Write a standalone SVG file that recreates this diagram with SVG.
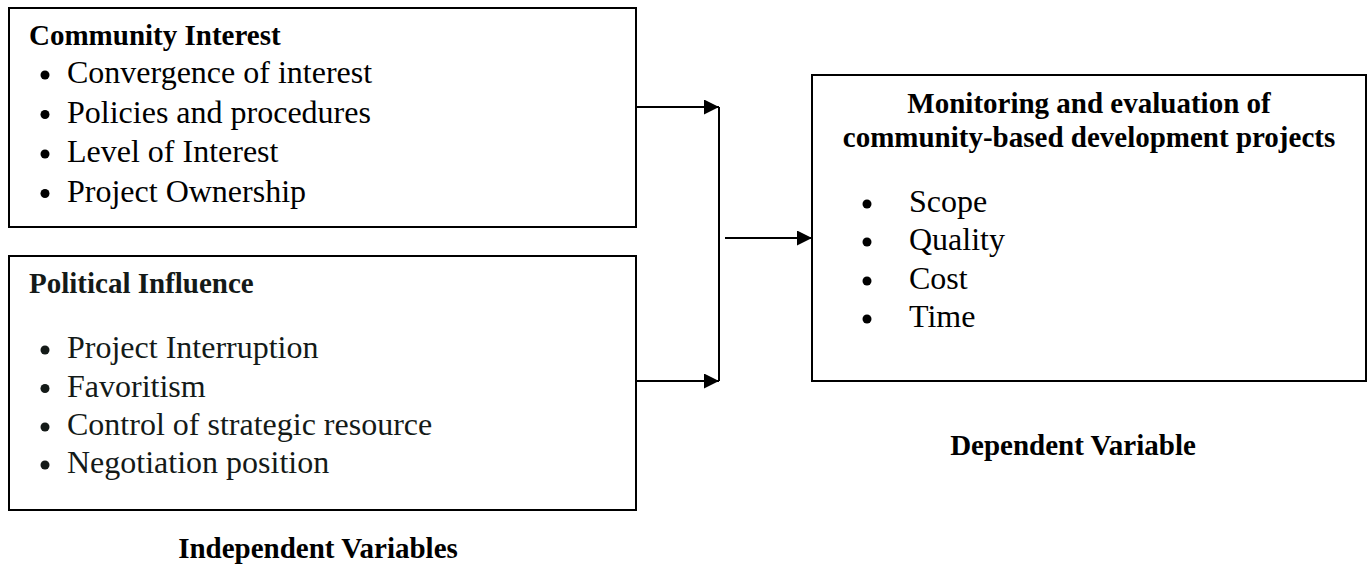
<svg xmlns="http://www.w3.org/2000/svg" width="1370" height="568" viewBox="0 0 1370 568">
<style>
.box{fill:#fff;stroke:#000;stroke-width:2}
.t{font-family:"Liberation Serif","Times New Roman",serif;fill:#000}
.h{font-size:29px;font-weight:bold}
.b{font-size:32px}
.g{fill:#141a18}
.line{stroke:#000;stroke-width:2;fill:none}
</style>
<defs>
<marker id="ah" markerUnits="userSpaceOnUse" markerWidth="16" markerHeight="16" refX="15" refY="7.5" orient="auto">
<path d="M0,0 L15,7.5 L0,15 z" fill="#000"/>
</marker>
</defs>
<rect width="1370" height="568" fill="#fff"/>
<g id="community-interest">
<rect class="box" x="9" y="8" width="627" height="219"/>
<text class="t h" x="29" y="45">Community Interest</text>
<circle cx="45" cy="75" r="4.5"/>
<text class="t b" x="67" y="83">Convergence of interest</text>
<circle cx="45" cy="114.5" r="4.5"/>
<text class="t b" x="67" y="122.5">Policies and procedures</text>
<circle cx="45" cy="154" r="4.5"/>
<text class="t b" x="67" y="162">Level of Interest</text>
<circle cx="45" cy="193.5" r="4.5"/>
<text class="t b" x="67" y="201.5">Project Ownership</text>
</g>
<g id="political-influence">
<rect class="box" x="9" y="256" width="627" height="254"/>
<text class="t h g" x="29" y="293">Political Influence</text>
<circle class="g" cx="45" cy="350" r="4.5"/>
<text class="t b g" x="67" y="358">Project Interruption</text>
<circle class="g" cx="45" cy="388.5" r="4.5"/>
<text class="t b g" x="67" y="396.5">Favoritism</text>
<circle class="g" cx="45" cy="427" r="4.5"/>
<text class="t b g" x="67" y="435">Control of strategic resource</text>
<circle class="g" cx="45" cy="465" r="4.5"/>
<text class="t b g" x="67" y="473">Negotiation position</text>
</g>
<g id="independent-label">
<text class="t h" x="318" y="558" text-anchor="middle">Independent Variables</text>
</g>
<g id="monitoring-evaluation">
<rect class="box" x="812" y="75" width="554" height="306"/>
<text class="t h" x="1089" y="113" text-anchor="middle">Monitoring and evaluation of</text>
<text class="t h" x="1089" y="147" text-anchor="middle">community-based development projects</text>
<circle cx="867" cy="204" r="4.5"/>
<text class="t b" x="909" y="212">Scope</text>
<circle cx="867" cy="242" r="4.5"/>
<text class="t b" x="909" y="250">Quality</text>
<circle cx="867" cy="281" r="4.5"/>
<text class="t b" x="909" y="289">Cost</text>
<circle cx="867" cy="319" r="4.5"/>
<text class="t b" x="909" y="327">Time</text>
</g>
<g id="dependent-label">
<text class="t h" x="1073" y="455" text-anchor="middle">Dependent Variable</text>
</g>
<g id="connectors">
<line class="line" x1="636" y1="107" x2="719" y2="107" marker-end="url(#ah)"/>
<line class="line" x1="636" y1="381" x2="719" y2="381" marker-end="url(#ah)"/>
<line class="line" x1="719" y1="107" x2="719" y2="381"/>
<line class="line" x1="725" y1="238" x2="812" y2="238" marker-end="url(#ah)"/>
</g>
</svg>
